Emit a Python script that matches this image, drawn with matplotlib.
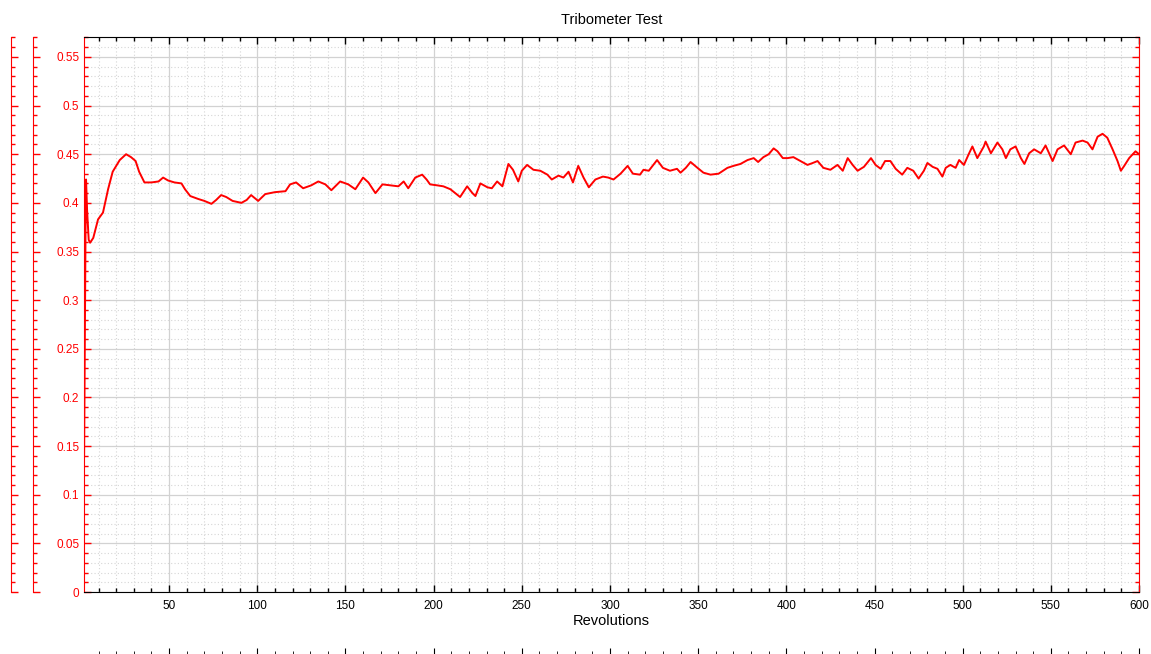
import matplotlib
matplotlib.use('Agg')
import matplotlib.pyplot as plt
from matplotlib.ticker import MultipleLocator, FuncFormatter

plt.rcParams['font.family'] = ['Liberation Sans', 'DejaVu Sans']

# coefficient of friction vs revolutions
rev = [1.8, 2.2, 2.6, 2.9, 3.5, 4.4, 5.2, 7, 9.7, 12.5, 15.4, 18, 22, 25.6, 28.4, 31, 33, 36,
       40, 44, 46.6, 49.4, 53, 57, 59, 62, 66.5, 70, 74, 76.7, 79.5, 82.4, 86, 91, 94, 96.5,
       100.5, 104.5, 110, 116, 118.6, 122, 126, 130.6, 134.6, 138.6, 142, 147, 151.6,
       155.6, 160, 163, 167, 171, 175.5, 180, 183, 185.6, 189.6, 193.5, 196, 198, 202, 205.5,
       209.5, 215, 219, 222, 223.7, 226.5, 230.5, 233, 236, 239, 242.4, 245, 248, 250, 253,
       256.6, 260.5, 264.5, 267, 270.8, 273.6, 276.5, 279, 282, 285, 288, 291.7, 296, 299,
       302, 306, 310, 313, 317,
       319, 322, 326.7, 330, 334, 338, 340, 343, 345.7, 349.6, 353, 357, 361.6, 366.6, 370,
       374, 378, 381.5, 384, 387, 390, 392.8, 395, 398, 400.7, 404, 408, 412, 415, 417.7,
       421, 425, 429, 432, 434.8, 437.6, 440.4, 444, 448, 450.6, 453.5, 456,
       459, 462, 465.7, 468.6, 472, 475, 478, 480, 483, 485.7, 488.5, 490.4, 493, 496, 498,
       500.7, 503.4, 505.5, 508.3, 512, 513, 516, 519.7, 522.5, 524.5, 527, 530, 533, 535,
       537.7, 540.5, 544.3, 547, 551, 553.8, 557.5, 561.3, 564, 568, 570.8, 573.6, 576.5,
       579.3, 582, 585, 587.8, 589.7, 591.6, 594.4, 598, 600]
cof = [0.140, 0.260, 0.370, 0.424, 0.392, 0.362, 0.359, 0.364, 0.383, 0.390, 0.414, 0.432,
       0.444, 0.450, 0.447, 0.443, 0.432, 0.421, 0.421, 0.422, 0.426, 0.423, 0.421, 0.420,
       0.414, 0.407, 0.404, 0.402, 0.399, 0.403, 0.408, 0.406, 0.402, 0.400, 0.403, 0.408,
       0.402, 0.409, 0.411, 0.412, 0.419, 0.421, 0.415, 0.418, 0.422, 0.419, 0.413, 0.422,
       0.419,
       0.414, 0.426, 0.421, 0.410, 0.419, 0.418, 0.417, 0.422, 0.415, 0.426, 0.429, 0.424,
       0.419, 0.418, 0.417, 0.414, 0.406, 0.417, 0.410, 0.407, 0.420, 0.416, 0.415, 0.422,
       0.417, 0.440, 0.434, 0.422, 0.433, 0.439, 0.434, 0.433, 0.429, 0.424, 0.428, 0.426,
       0.432, 0.421, 0.438, 0.426, 0.416, 0.424, 0.427, 0.426, 0.424, 0.430, 0.438, 0.430,
       0.429,
       0.434, 0.433, 0.444, 0.436, 0.433, 0.435, 0.431, 0.436, 0.442, 0.436, 0.431, 0.429,
       0.430, 0.436, 0.438, 0.440, 0.444, 0.446, 0.442, 0.447, 0.450, 0.456, 0.453, 0.446,
       0.446, 0.447, 0.443, 0.439, 0.441, 0.443, 0.436, 0.434, 0.439, 0.433, 0.446, 0.439,
       0.433, 0.437, 0.446, 0.439, 0.435, 0.443,
       0.443, 0.435, 0.429, 0.436, 0.433, 0.425, 0.433, 0.441, 0.437, 0.435, 0.427, 0.436,
       0.439, 0.436, 0.444, 0.439, 0.450, 0.458, 0.446, 0.458, 0.463, 0.451, 0.462, 0.455,
       0.446, 0.455, 0.458, 0.446, 0.440, 0.451, 0.455, 0.451, 0.459, 0.443, 0.455, 0.459,
       0.450, 0.462, 0.464, 0.462, 0.455, 0.468, 0.471, 0.467, 0.455, 0.443, 0.433, 0.438,
       0.446, 0.453, 0.450]

x_lim = [1.75, 600]
y_lim = [0, 0.57]
title = 'Tribometer Test'
xlabel = 'Revolutions'

fmt = FuncFormatter(lambda v, p: '%g' % round(v, 4))

fig = plt.figure(figsize=(11.51, 6.54), dpi=100)
ax = fig.add_axes([0.073, 0.0948, 0.9166, 0.8479])

# two extra (empty) red y-axes on the far left
for pos in [-0.0483, -0.0692]:
    ay = ax.twinx()
    ay.set_ylim(y_lim)
    for s in ['top', 'bottom', 'right']:
        ay.spines[s].set_visible(False)
    ay.spines['left'].set_visible(True)
    ay.spines['left'].set_position(('axes', pos))
    ay.spines['left'].set_color('red')
    ay.yaxis.set_ticks_position('left')
    ay.yaxis.set_major_locator(MultipleLocator(0.05))
    ay.yaxis.set_minor_locator(MultipleLocator(0.01))
    ay.tick_params(which='both', direction='in', colors='red', labelleft=False, width=1)
    ay.tick_params(which='major', length=5)
    ay.tick_params(which='minor', length=3)

# extra black x-axis ticks at the very bottom
axb = ax.twiny()
axb.set_xlim(x_lim)
for s in ['top', 'left', 'right']:
    axb.spines[s].set_visible(False)
axb.spines['bottom'].set_position(('axes', -0.1141))
axb.spines['bottom'].set_color('white')
axb.xaxis.set_ticks_position('bottom')
axb.xaxis.set_major_locator(MultipleLocator(50))
axb.xaxis.set_minor_locator(MultipleLocator(10))
axb.tick_params(which='both', direction='in', labelbottom=False, labeltop=False, color='black')
axb.tick_params(which='major', length=5)
axb.tick_params(which='minor', length=3)

ax.plot(rev, cof, color='#ff0000', linewidth=1.4, zorder=3)

ax.set_xlim(x_lim)
ax.set_ylim(y_lim)
ax.xaxis.set_major_locator(MultipleLocator(50))
ax.xaxis.set_minor_locator(MultipleLocator(10))
ax.yaxis.set_major_locator(MultipleLocator(0.05))
ax.yaxis.set_minor_locator(MultipleLocator(0.01))
ax.xaxis.set_major_formatter(fmt)
ax.yaxis.set_major_formatter(fmt)

ax.grid(which='major', color='#d2d2d2', linewidth=0.9, linestyle='-')
ax.grid(which='minor', color='#d6d6d6', linewidth=0.8, linestyle=(0, (1, 2)))
ax.set_axisbelow(True)

ax.spines['left'].set_color('red')
ax.spines['right'].set_color('red')
ax.spines['top'].set_color('black')
ax.spines['bottom'].set_color('black')
ax.tick_params(which='both', direction='in', top=True, right=True, left=True, bottom=True, width=1)
ax.tick_params(which='major', length=5)
ax.tick_params(which='minor', length=3)
ax.tick_params(axis='y', which='both', colors='red', labelsize=8.5)
ax.tick_params(axis='x', which='both', colors='black', labelsize=8.5, pad=6)

ax.set_title(title, fontsize=10.5, pad=10)
ax.set_xlabel(xlabel, fontsize=10.5, labelpad=1)

fig.savefig('out.png', dpi=100, facecolor='white')
